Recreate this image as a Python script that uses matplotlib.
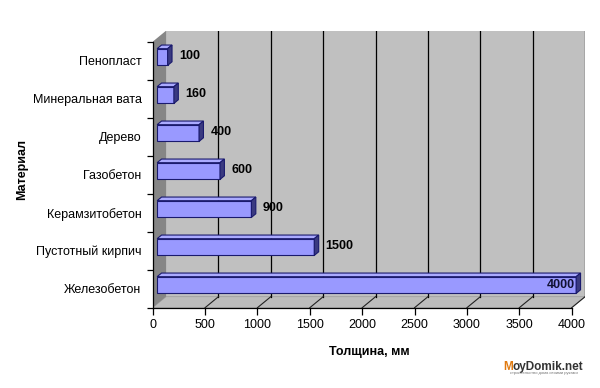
import numpy as np
import matplotlib.pyplot as plt
from matplotlib.patches import Polygon

plt.rcParams['font.family'] = ['Liberation Sans', 'DejaVu Sans']

# data (bottom to top)
materials = ['Железобетон', 'Пустотный кирпич', 'Керамзитобетон', 'Газобетон',
             'Дерево', 'Минеральная вата', 'Пенопласт']
thickness = [4000, 1500, 900, 600, 400, 160, 100]
x_ticks = [0, 500, 1000, 1500, 2000, 2500, 3000, 3500, 4000]

# fake 3d box depth in data units
DX, DY = 128, 0.29
XMAX = x_ticks[-1]
YBOT, YTOP = -0.5, len(materials) - 0.5
BH = 0.44
F1, F2 = 0.33, 0.66   # front / back of bars as a fraction of depth

fig = plt.figure(figsize=(6, 3.88), dpi=100)
ax = fig.add_axes([0.2545, 0.207, 0.7207, 0.714])
ax.set_xlim(0, XMAX + DX)
ax.set_ylim(YBOT, YTOP + DY)

# walls
ax.add_patch(Polygon([(DX, YBOT + DY), (XMAX + DX, YBOT + DY),
                      (XMAX + DX, YTOP + DY), (DX, YTOP + DY)],
                     fc='#c0c0c0', ec='none', zorder=0))
ax.add_patch(Polygon([(0, YBOT), (XMAX, YBOT), (XMAX + DX, YBOT + DY), (DX, YBOT + DY)],
                     fc='#bcbcbc', ec='#a0a0a0', lw=0.6, zorder=0.2))
ax.add_patch(Polygon([(0, YBOT), (DX, YBOT + DY), (DX, YTOP + DY), (0, YTOP)],
                     fc='#868686', ec='none', zorder=0.3))

# grid on back wall and floor
for x in x_ticks[1:]:
    ax.plot([x + DX, x + DX], [YBOT + DY, YTOP + DY], color='black', lw=0.9, zorder=0.5)
    ax.plot([x, x + DX], [YBOT, YBOT + DY], color='#222222', lw=0.8, zorder=0.5)

# bars
y = np.arange(len(materials))
ax.barh(y + DY * F1, thickness, left=DX * F1, height=BH,
        color='#9999ff', edgecolor='#1a1a6e', lw=0.8, zorder=2)
for yi, v in zip(y, thickness):
    yf = yi + DY * F1
    yb = yi + DY * F2
    top = Polygon([(DX * F1, yf + BH / 2), (v + DX * F1, yf + BH / 2),
                   (v + DX * F2, yb + BH / 2), (DX * F2, yb + BH / 2)],
                  fc='#aaaaff', ec='#1a1a6e', lw=0.8, zorder=2.1)
    side = Polygon([(v + DX * F1, yf - BH / 2), (v + DX * F1, yf + BH / 2),
                    (v + DX * F2, yb + BH / 2), (v + DX * F2, yb - BH / 2)],
                   fc='#3a3a80', ec='#1a1a6e', lw=0.8, zorder=2.1)
    ax.add_patch(top)
    ax.add_patch(side)
    if v > 0.9 * max(thickness):
        ax.annotate(str(v), xy=(v + DX * F1, yf), xytext=(-1, 0), textcoords='offset points',
                    ha='right', va='center', fontsize=9, fontweight='bold',
                    color='#111133', zorder=3)
    else:
        ax.annotate(str(v), xy=(v + DX * F2, yf), xytext=(5, 0.5), textcoords='offset points',
                    ha='left', va='center', fontsize=9, fontweight='bold', zorder=3)

# axes
for s in ['top', 'right']:
    ax.spines[s].set_visible(False)
ax.spines['left'].set_bounds(YBOT, YTOP)
ax.spines['bottom'].set_bounds(0, XMAX)
for s in ['left', 'bottom']:
    ax.spines[s].set_zorder(4)
    ax.spines[s].set_linewidth(0.9)

ax.set_xticks(x_ticks)
ax.tick_params(axis='x', length=5, width=0.9, pad=3, labelsize=9)
ax.set_yticks(np.arange(YBOT, YTOP + 0.01, 1))
ax.set_yticklabels([])
ax.tick_params(axis='y', which='major', length=4, width=0.9)
ax.set_yticks(y, minor=True)
ax.set_yticklabels(materials, minor=True)
ax.tick_params(axis='y', which='minor', length=0, pad=8, labelsize=9)

ax.set_xlabel('Толщина, мм', fontsize=9, fontweight='bold', labelpad=11)
ax.set_ylabel('Материал', fontsize=9, fontweight='bold', labelpad=3)

# watermark
m = fig.text(0.838, 0.047, 'M', color='#e07a10', fontsize=8.5, fontweight='bold')
ax.annotate('oyDomik.net', xy=(1, 0), xycoords=m, va='bottom',
            fontsize=8.5, fontweight='bold', color='#333333', annotation_clip=False)
fig.text(0.85, 0.035, 'строительство дома своими руками', fontsize=3,
         color='#777777')

fig.savefig('out.png', dpi=100)
